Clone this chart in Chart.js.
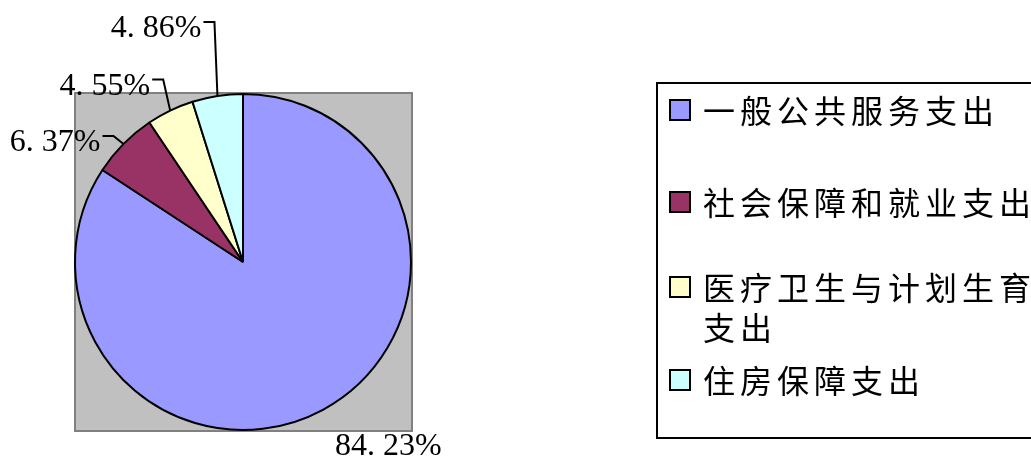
<!DOCTYPE html>
<html><head><meta charset="utf-8">
<script src="https://cdn.jsdelivr.net/npm/chart.js@4/dist/chart.umd.min.js"></script>
<style>html,body{margin:0;padding:0;background:#fff;}canvas{display:block;}</style>
</head><body>
<canvas id="c" width="1031" height="459"></canvas>
<script>
// ---- data ----
const categories = ['一般公共服务支出', '社会保障和就业支出', '医疗卫生与计划生育支出', '住房保障支出'];
const legendLines = [['一般公共服务支出'], ['社会保障和就业支出'], ['医疗卫生与计划生育', '支出'], ['住房保障支出']];
const shares = [84.23, 6.37, 4.55, 4.86];
const sliceColors = ['#9999FF', '#993366', '#FFFFCC', '#CCFFFF'];
const valueLabels = shares.map(v => v.toFixed(2).replace('.', '. ') + '%');

// ---- layout (label / legend placement) ----
const labelElbows = [null, [-10, -8], [-7, -31], [-3, -74]];
const legendRowTops = [100, 192, 277, 370];

const decor = {
  id: 'decor',
  beforeDraw(chart) {
    const ctx = chart.ctx, a = chart.chartArea;
    ctx.save();
    ctx.fillStyle = '#C0C0C0';
    ctx.fillRect(a.left + 1, a.top, a.right - a.left - 1, a.bottom - a.top);
    ctx.strokeStyle = '#808080';
    ctx.lineWidth = 2;
    ctx.strokeRect(a.left + 1, a.top, a.right - a.left - 1, a.bottom - a.top);
    ctx.restore();
  },
  afterDatasetsDraw(chart) {
    const ctx = chart.ctx;
    const arcs = chart.getDatasetMeta(0).data;
    ctx.save();
    ctx.font = '32px "Liberation Serif"';
    ctx.fillStyle = '#000';
    ctx.strokeStyle = '#000';
    ctx.lineWidth = 2;
    ctx.textBaseline = 'alphabetic';
    arcs.forEach((arc, i) => {
      const p = arc.getProps(['x', 'y', 'startAngle', 'endAngle', 'outerRadius'], true);
      const mid = (p.startAngle + p.endAngle) / 2;
      const ax = p.x + Math.cos(mid) * p.outerRadius;
      const ay = p.y + Math.sin(mid) * p.outerRadius;
      const el = labelElbows[i];
      if (el) {
        const ex = ax + el[0], ey = ay + el[1];
        const tr = ex - 13;
        ctx.beginPath();
        ctx.moveTo(tr + 2, ey);
        ctx.lineTo(ex, ey);
        ctx.lineTo(ax, ay);
        ctx.stroke();
        ctx.textAlign = 'right';
        ctx.fillText(valueLabels[i], tr, ey + 15);
      } else {
        ctx.textAlign = 'left';
        ctx.fillText(valueLabels[i], ax + 12, ay + 45);
      }
    });
    // legend
    ctx.lineWidth = 2;
    ctx.strokeRect(657, 83, 420, 355);
    ctx.font = '32px "Noto Sans CJK SC"';
    try { ctx.letterSpacing = '5px'; } catch (e) {}
    ctx.textAlign = 'left';
    ctx.textBaseline = 'middle';
    legendLines.forEach((lines, i) => {
      const top = legendRowTops[i];
      ctx.fillStyle = sliceColors[i];
      ctx.fillRect(670, top, 20, 20);
      ctx.strokeRect(670, top, 20, 20);
      ctx.fillStyle = '#000';
      lines.forEach((t, j) => ctx.fillText(t, 703, top + 11 + j * 40));
    });
    ctx.restore();
  }
};

new Chart(document.getElementById('c'), {
  type: 'pie',
  data: {
    labels: categories,
    datasets: [{
      data: shares,
      backgroundColor: sliceColors,
      borderColor: '#000',
      borderWidth: 2
    }]
  },
  options: {
    responsive: false,
    animation: false,
    events: [],
    layout: { padding: { left: 74, top: 93, right: 619, bottom: 28 } },
    plugins: { legend: { display: false }, tooltip: { enabled: false } }
  },
  plugins: [decor]
});
</script>
</body></html>
